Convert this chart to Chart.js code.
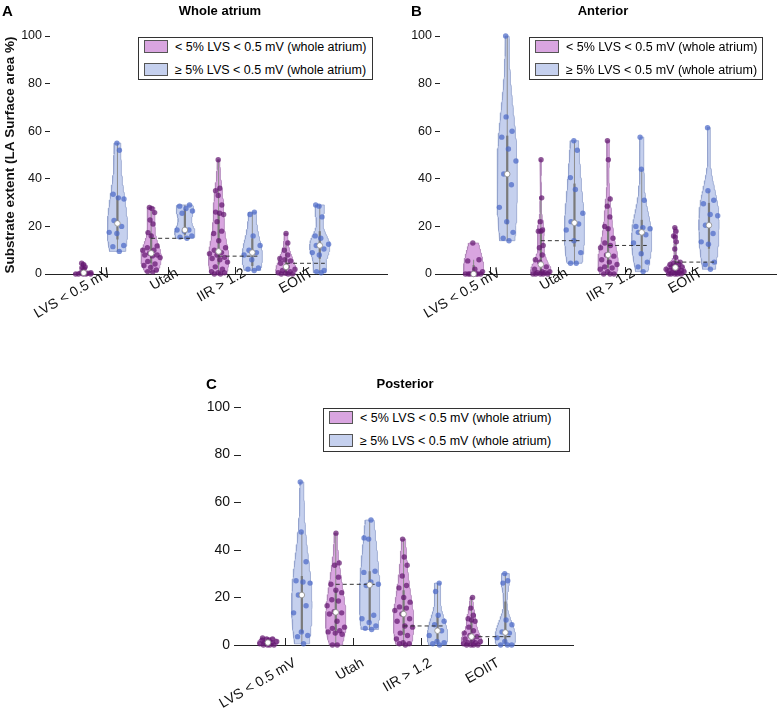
<!DOCTYPE html>
<html>
<head>
<meta charset="utf-8">
<script src="https://cdn.jsdelivr.net/npm/chart.js@4.4.0/dist/chart.umd.min.js"></script>
<style>
body { margin: 0; background: #fff; font-family: "Liberation Sans", Arial, sans-serif; }
#page { position: relative; width: 781px; height: 709px; overflow: hidden; }
.panel { position: absolute; }
.letter { position: absolute; font-weight: bold; font-size: 15px; line-height: 15px; }
.title { position: absolute; font-weight: bold; font-size: 13px; line-height: 15px; transform: translateX(-50%); white-space: nowrap; }
.legend { position: absolute; border: 1px solid #333; background: #fff; font-size: 12.5px; box-sizing: border-box; }
.legend .row { position: absolute; left: 0; height: 14px; line-height: 14px; white-space: nowrap; }
.legend .sw { position: absolute; left: 5px; top: 0; width: 24px; height: 13px; box-sizing: border-box; border: 1px solid #555; }
.legend .txt { position: absolute; left: 36px; top: 0; }
</style>
</head>
<body>
<div id="page">
  <div class="panel" style="left:0;top:0"><canvas id="chartA" width="392" height="350"></canvas></div>
  <div class="panel" style="left:390px;top:0"><canvas id="chartB" width="391" height="350"></canvas></div>
  <div class="panel" style="left:184px;top:371px"><canvas id="chartC" width="394" height="350"></canvas></div>

  <div class="letter" style="left:2px;top:3px">A</div>
  <div class="title" style="left:220px;top:3px">Whole atrium</div>
  <div class="letter" style="left:411px;top:3px">B</div>
  <div class="title" style="left:603px;top:3px">Anterior</div>
  <div class="letter" style="left:206px;top:376px">C</div>
  <div class="title" style="left:405px;top:376px">Posterior</div>

  <div class="legend" id="legA" style="left:138px;top:37px;width:235px;height:43px"></div>
  <div class="legend" id="legB" style="left:529px;top:37px;width:234px;height:43px"></div>
  <div class="legend" id="legC" style="left:323px;top:408px;width:247px;height:44px"></div>
</div>
<script>
// categories and tick labels
const categories = ['LVS < 0.5 mV', 'Utah', 'IIR > 1.2', 'EOIIT'];
const yTicks = [0, 20, 40, 60, 80, 100];
const groupNames = ['< 5% LVS < 0.5 mV (whole atrium)', '\u2265 5% LVS < 0.5 mV (whole atrium)'];

// A - whole atrium
const wholeLow = [
  [0, 0, 0, 0, 0, 0.3, 0.5, 0.5, 2, 2.5, 3, 4, 4.5],
  [0.8, 1, 1.7, 2.8, 3.6, 4.2, 5.3, 6.9, 7.6, 8, 8, 8.7, 10, 10, 11, 11.8, 16, 17.4, 21, 22.7, 25.8, 27.5, 28],
  [0, 0, 0.5, 0.5, 1, 2, 3, 5, 6, 6.5, 7, 8, 8.5, 9, 10, 11, 14, 17, 18, 22, 25, 25.5, 26, 29, 33, 35, 36, 48],
  [0, 0, 0, 0.3, 0.5, 1, 1.5, 2, 3, 4.5, 5.5, 6, 6.5, 8, 10, 13, 17]
];
const wholeHigh = [
  [9.5, 11.5, 12, 17, 17.5, 20, 22.5, 31.5, 32, 33.5, 52, 55],
  [15, 15.5, 16, 18, 18.5, 18.5, 25.5, 26.5, 27.5, 28.5, 29],
  [1.5, 2, 2.5, 6, 8, 9, 10, 12, 16, 25, 26],
  [0.5, 1, 1.5, 8, 9, 10.5, 12, 12.5, 15, 16, 24, 28.5, 29]
];
const wholeCutoff = [null, 15, 7.5, 4.5];

// B - anterior
const anteriorLow = [
  [0, 0, 0, 0, 0, 0, 0, 1, 2, 5.5, 6, 13],
  [0, 0, 0, 0, 0, 0.5, 0.5, 1, 1, 2, 3, 5, 6, 8, 11, 12, 18, 18, 18.5, 22, 32, 48],
  [0, 0, 0, 1, 2, 2.5, 3, 4, 5, 6, 7.5, 8, 11, 12, 13, 15, 19, 20, 24, 28.5, 31.5, 48, 56],
  [0, 0, 0, 0, 0, 0.5, 0.5, 1, 1, 1.5, 1.5, 2, 2, 2.5, 3, 3, 3.5, 4, 4, 4.5, 5, 7, 10.5, 13.5, 15.5, 16, 18, 19.5]
];
const anteriorHigh = [
  [14, 15, 17.5, 22, 28, 37.5, 42, 47.5, 52.5, 57.5, 60, 66, 100],
  [4.5, 4.5, 9, 14, 18.5, 21, 22, 25.5, 35.5, 40.5, 52, 56],
  [1, 3, 5, 8.5, 13, 16.5, 17.5, 19, 19.5, 20, 31, 44, 57.5],
  [2, 4, 5, 12.5, 13.5, 17, 20.5, 24.5, 25, 29.5, 31, 35, 61.5]
];
const anteriorCutoff = [null, 14, 12, 5];

// C - posterior
const posteriorLow = [
  [0, 0, 0, 0, 0.5, 1, 1, 1.5, 2, 2, 2.5, 2.5, 3],
  [0, 0, 4.5, 5, 5.5, 6, 7, 7.5, 10, 13, 13.5, 14, 16.5, 18.5, 19, 22, 23, 25.5, 28.5, 33.5, 34.5, 47],
  [0, 0.5, 0.5, 1, 2.5, 4, 5, 7.5, 8, 10, 11, 13, 14.5, 15.5, 16, 18, 20, 24, 25, 29, 33.5, 37, 44.5],
  [0, 0, 0, 0, 0.5, 1, 1, 1.5, 2, 2.5, 3.5, 4, 5, 6, 7.5, 10, 10.5, 11, 12.5, 15.5, 20]
];
const posteriorHigh = [
  [0.5, 3.5, 4, 5.5, 13.5, 16.5, 21, 26, 26.5, 27, 35, 47.5, 68.5],
  [6.5, 7, 8, 9.5, 11, 12.5, 25, 25.5, 26.5, 30.5, 31, 44.5, 45, 52.5],
  [0, 0.5, 1, 1.5, 4, 6, 8.5, 10, 12.5, 22.5, 26],
  [0, 0, 0, 1.5, 3, 5, 5.5, 8.5, 10.5, 26, 27, 30]
];
const posteriorCutoff = [null, 25.5, 8, 3.5];

const colLow = { fill: '#d9a5e0', edge: '#ad84b6', dot: 'rgba(100,24,112,0.72)' };
const colHigh = { fill: '#c5d0ee', edge: '#93a2cd', dot: 'rgba(76,106,200,0.72)' };
const FONT = '"Liberation Sans", Arial, sans-serif';

function median(a) {
  const s = [...a].sort((p, q) => p - q), n = s.length;
  return n % 2 ? s[(n - 1) / 2] : (s[n / 2 - 1] + s[n / 2]) / 2;
}

// matlab style quantile
function quantile(a, p) {
  const s = [...a].sort((u, v) => u - v), n = s.length;
  let k = n * p + 0.5;
  if (k <= 1) return s[0];
  if (k >= n) return s[n - 1];
  const i = Math.floor(k), f = k - i;
  return s[i - 1] + f * (s[i] - s[i - 1]);
}

// ksdensity default bandwidth, density cut at data range
function violinShape(vals) {
  const n = vals.length, med = median(vals);
  const lo = Math.min(...vals), hi = Math.max(...vals);
  let sig = median(vals.map(v => Math.abs(v - med))) / 0.6745;
  if (sig <= 0) sig = hi - lo;
  const bw = sig * Math.pow(4 / (3 * n), 0.2);
  const ys = [], ds = [];
  for (let k = 0; k <= 80; k++) {
    const y = lo + (hi - lo) * k / 80;
    let d = 0;
    vals.forEach(v => { const z = (y - v) / bw; d += Math.exp(-0.5 * z * z); });
    ys.push(y); ds.push(d);
  }
  const mx = Math.max(...ds);
  return { ys, ws: ds.map(d => d / mx * 0.3) };
}

function widthAt(shape, y) {
  const { ys, ws } = shape;
  if (y <= ys[0]) return ws[0];
  for (let k = 1; k < ys.length; k++) {
    if (y <= ys[k]) {
      const t = (y - ys[k - 1]) / (ys[k] - ys[k - 1] || 1);
      return ws[k - 1] + t * (ws[k] - ws[k - 1]);
    }
  }
  return ws[ws.length - 1];
}

function violinDatasets(vals, pos, col) {
  const shape = violinShape(vals);
  const outline = [];
  shape.ys.forEach((y, k) => outline.push({ x: pos + shape.ws[k], y }));
  for (let k = shape.ys.length - 1; k >= 0; k--) outline.push({ x: pos - shape.ws[k], y: shape.ys[k] });
  outline.push(outline[0]);

  const q1 = quantile(vals, 0.25), q3 = quantile(vals, 0.75), iqr = q3 - q1;
  const lw = Math.min(...vals.filter(v => v >= q1 - 1.5 * iqr));
  const uw = Math.max(...vals.filter(v => v <= q3 + 1.5 * iqr));

  const pts = vals.map((v, i) => {
    const j = (((i + 1) * 0.61803398875) % 1) * 2 - 1;
    return { x: pos + j * widthAt(shape, v), y: v };
  });

  const base = { showLine: true, pointRadius: 0, clip: false, tension: 0 };
  return [
    { ...base, data: outline, fill: 'shape', backgroundColor: col.fill, borderColor: col.edge, borderWidth: 0.8, order: 10 },
    { ...base, data: [{ x: pos, y: lw }, { x: pos, y: uw }], borderColor: '#8c8c8c', borderWidth: 1, order: 9 },
    { ...base, data: [{ x: pos, y: q1 }, { x: pos, y: q3 }], borderColor: '#7a7a7a', borderWidth: 2.2, order: 8 },
    { data: pts, showLine: false, pointRadius: 2.7, backgroundColor: col.dot, borderWidth: 0, clip: false, order: 7 },
    { data: [{ x: pos, y: median(vals) }], showLine: false, pointRadius: 2.8, backgroundColor: '#fff', borderColor: '#8a8a8a', borderWidth: 0.8, clip: false, order: 0 }
  ];
}

// upward tick marks, rotated category labels, optional inward y ticks
const axisDeco = {
  id: 'axisDeco',
  afterDraw(chart, args, opts) {
    const { ctx, chartArea } = chart, x = chart.scales.x, y = chart.scales.y;
    ctx.save();
    ctx.strokeStyle = '#222';
    ctx.lineWidth = 1;
    x.ticks.forEach(t => {
      const px = Math.round(x.getPixelForValue(t.value)) + 0.5;
      ctx.beginPath();
      ctx.moveTo(px, chartArea.bottom);
      ctx.lineTo(px, chartArea.bottom - 7);
      ctx.stroke();
    });
    if (opts.yInward) {
      y.ticks.forEach(t => {
        const py = Math.round(y.getPixelForValue(t.value)) + 0.5;
        ctx.beginPath();
        ctx.moveTo(chartArea.left, py);
        ctx.lineTo(chartArea.left + 7, py);
        ctx.stroke();
      });
    }
    ctx.fillStyle = '#111';
    ctx.font = '14px ' + FONT;
    ctx.textAlign = 'right';
    ctx.textBaseline = 'middle';
    x.ticks.forEach((t, i) => {
      ctx.save();
      ctx.translate(x.getPixelForValue(t.value) + opts.dx, chartArea.bottom + opts.dy);
      ctx.rotate(-Math.PI / 6);
      ctx.fillText(categories[i], 0, 0);
      ctx.restore();
    });
    ctx.restore();
  }
};

function makePanel(id, low, high, cutoff, yTitle, look) {
  const datasets = [];
  categories.forEach((c, g) => {
    datasets.push(...violinDatasets(low[g], 2 * g + 1, colLow));
    datasets.push(...violinDatasets(high[g], 2 * g + 2, colHigh));
    if (cutoff[g] != null) {
      datasets.push({
        data: [{ x: 2 * g + 1, y: cutoff[g] }, { x: 2 * g + 2.15, y: cutoff[g] }],
        showLine: true, pointRadius: 0, borderColor: '#333', borderWidth: 1,
        borderDash: [4, 3], clip: false, order: 6
      });
    }
  });

  new Chart(document.getElementById(id), {
    type: 'scatter',
    data: { datasets },
    plugins: [axisDeco],
    options: {
      responsive: false,
      animation: false,
      events: [],
      layout: { padding: { top: 36, right: 3, left: 0, bottom: 0 } },
      plugins: {
        legend: { display: false }, tooltip: { enabled: false },
        axisDeco: { dx: look.dx, dy: look.dy, yInward: look.yInward }
      },
      scales: {
        x: {
          type: 'linear', min: 0, max: 10,
          afterBuildTicks: s => { s.ticks = categories.map((c, g) => ({ value: 2 * g + 1.5 })); },
          afterFit: s => { s.height = 76; s.paddingLeft = 0; s.paddingRight = 0; },
          grid: { display: false },
          border: { display: true, color: '#222', width: 1 },
          ticks: { display: false }
        },
        y: {
          min: 0, max: 100,
          afterBuildTicks: s => { s.ticks = yTicks.map(v => ({ value: v })); },
          afterFit: s => { s.width = 50; },
          grid: { drawOnChartArea: false, drawTicks: !look.yInward, tickLength: 5, color: '#222' },
          border: { display: false },
          ticks: { padding: look.yInward ? 4 : 3, color: '#111', font: { family: FONT, size: look.ySize } },
          title: {
            display: !!yTitle, text: yTitle || '', color: '#111',
            font: { family: FONT, size: 13.5, weight: 'bold' }, padding: { top: 2, bottom: 2 }
          }
        }
      }
    }
  });
}

function makeLegend(id) {
  const box = document.getElementById(id);
  [colLow, colHigh].forEach((col, k) => {
    const row = document.createElement('div');
    row.className = 'row';
    row.style.top = (2 + k * 23) + 'px';
    row.innerHTML = '<span class="sw" style="background:' + col.fill + '"></span><span class="txt">' +
      groupNames[k].replace(/</g, '&lt;') + '</span>';
    box.appendChild(row);
  });
}

makePanel('chartA', wholeLow, wholeHigh, wholeCutoff, 'Substrate extent (LA Surface area %)',
  { dx: 9, dy: -2, yInward: false, ySize: 12.5 });
makePanel('chartB', anteriorLow, anteriorHigh, anteriorCutoff, null,
  { dx: 9, dy: -2, yInward: false, ySize: 12.5 });
makePanel('chartC', posteriorLow, posteriorHigh, posteriorCutoff, null,
  { dx: 10, dy: 17, yInward: true, ySize: 14 });
makeLegend('legA');
makeLegend('legB');
makeLegend('legC');
</script>
</body>
</html>
